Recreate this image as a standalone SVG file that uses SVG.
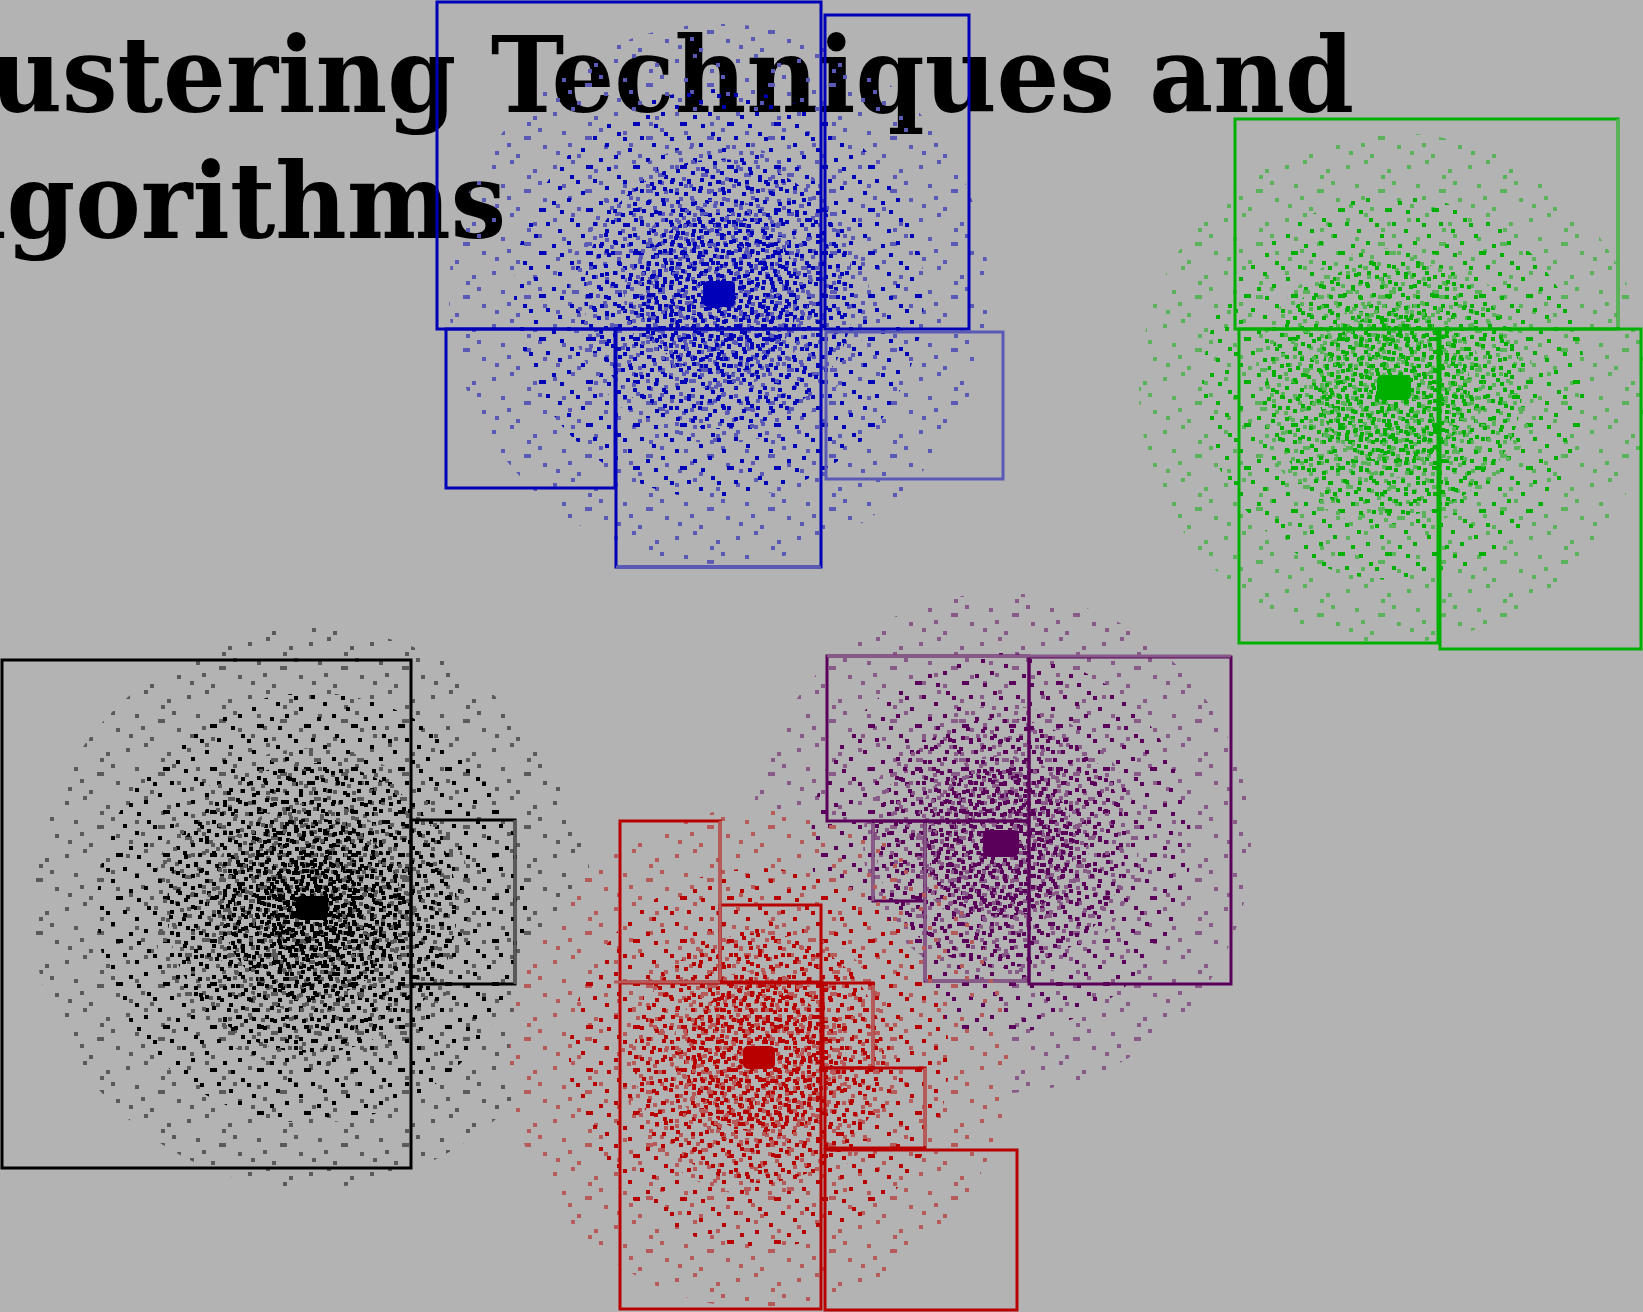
<svg xmlns="http://www.w3.org/2000/svg" width="1643" height="1312" viewBox="0 0 1643 1312">
<style>
.t{font-family:"DejaVu Serif Condensed","DejaVu Serif","Liberation Serif",serif;font-weight:bold;font-stretch:condensed;font-size:105px;fill:#000}
.box{fill:none;stroke-width:3}
.dot{fill:#fff;shape-rendering:crispEdges}
.bD{fill:#0000b8}.bL{fill:#5a5ab6}.sbD{stroke:#0000b8}.sbL{stroke:#5a5ab6}
.gD{fill:#00b000}.gL{fill:#5ab25a}.sgD{stroke:#00b000}.sgL{stroke:#5ab25a}
.kD{fill:#000}.kL{fill:#5a5a5a}.skD{stroke:#000}.skL{stroke:#5a5a5a}
.rD{fill:#b80000}.rL{fill:#b65a5a}.srD{stroke:#b80000}.srL{stroke:#b65a5a}
.pD{fill:#5a005a}.pL{fill:#875a87}.spD{stroke:#5a005a}.spL{stroke:#875a87}
</style>
<defs>
<pattern id="pA" width="61" height="53" patternUnits="userSpaceOnUse"><path class="dot" d="M4 6h3.5v3.5h-3.5zM22 1h3.5v3.5h-3.5zM45 10h3.5v3.5h-3.5zM13 25h3.5v3.5h-3.5zM36 30h7v3.5h-7zM55 39h3.5v3.5h-3.5zM7 45h3.5v3.5h-3.5zM28 48h3.5v3.5h-3.5zM50 22h3.5v3.5h-3.5zM19 37h3.5v3.5h-3.5zM39 16h3.5v3.5h-3.5z"/></pattern>
<pattern id="pB" width="43" height="39" patternUnits="userSpaceOnUse"><path class="dot" d="M3 4h3.5v3.5h-3.5zM25 9h3.5v3.5h-3.5zM37 21h3.5v3.5h-3.5zM13 17h7v3.5h-7zM30 32h3.5v3.5h-3.5zM1 28h3.5v3.5h-3.5zM19 34h3.5v3.5h-3.5zM8 11h3.5v3.5h-3.5zM34 2h3.5v3.5h-3.5z"/></pattern>
<pattern id="pC" width="29" height="31" patternUnits="userSpaceOnUse"><path class="dot" d="M2 3h3.5v3.5h-3.5zM17 6h3.5v3.5h-3.5zM24 16h3.5v3.5h-3.5zM9 14h3.5v3.5h-3.5zM20 25h3.5v3.5h-3.5zM4 23h3.5v3.5h-3.5zM12 27h3.5v3.5h-3.5zM25 1h3.5v3.5h-3.5z"/></pattern>
<pattern id="pD" width="19" height="17" patternUnits="userSpaceOnUse"><path class="dot" d="M1 2h3.5v3.5h-3.5zM11 4h3.5v3.5h-3.5zM6 10h3.5v3.5h-3.5zM15 12h3.5v3.5h-3.5zM9 13h3.5v3.5h-3.5z"/></pattern>
<pattern id="pE" width="47" height="43" patternUnits="userSpaceOnUse"><path class="dot" d="M6 3h3.5v3.5h-3.5zM29 7h3.5v3.5h-3.5zM41 14h3.5v3.5h-3.5zM17 19h3.5v3.5h-3.5zM3 26h3.5v3.5h-3.5zM35 29h3.5v3.5h-3.5zM22 36h7v3.5h-7zM12 8h3.5v3.5h-3.5zM43 38h3.5v3.5h-3.5z"/></pattern>
<pattern id="pF" width="31" height="23" patternUnits="userSpaceOnUse"><path class="dot" d="M3 2h3.5v3.5h-3.5zM18 5h3.5v3.5h-3.5zM26 13h3.5v3.5h-3.5zM10 11h3.5v3.5h-3.5zM21 19h3.5v3.5h-3.5zM1 17h3.5v3.5h-3.5z"/></pattern>
<pattern id="pG" width="23" height="19" patternUnits="userSpaceOnUse"><path class="dot" d="M2 1h3.5v3.5h-3.5zM14 3h3.5v3.5h-3.5zM7 8h3.5v3.5h-3.5zM19 11h3.5v3.5h-3.5zM11 15h3.5v3.5h-3.5zM3 14h3.5v3.5h-3.5z"/></pattern>
<mask id="mA" maskUnits="userSpaceOnUse" x="0" y="0" width="1643" height="1312"><rect width="1643" height="1312" fill="url(#pA)"/></mask>
<mask id="mB" maskUnits="userSpaceOnUse" x="0" y="0" width="1643" height="1312"><rect width="1643" height="1312" fill="url(#pB)"/></mask>
<mask id="mC" maskUnits="userSpaceOnUse" x="0" y="0" width="1643" height="1312"><rect width="1643" height="1312" fill="url(#pC)"/></mask>
<mask id="mD" maskUnits="userSpaceOnUse" x="0" y="0" width="1643" height="1312"><rect width="1643" height="1312" fill="url(#pD)"/></mask>
<mask id="mE" maskUnits="userSpaceOnUse" x="0" y="0" width="1643" height="1312"><rect width="1643" height="1312" fill="url(#pE)"/></mask>
<mask id="mF" maskUnits="userSpaceOnUse" x="0" y="0" width="1643" height="1312"><rect width="1643" height="1312" fill="url(#pF)"/></mask>
<mask id="mG" maskUnits="userSpaceOnUse" x="0" y="0" width="1643" height="1312"><rect width="1643" height="1312" fill="url(#pG)"/></mask>
</defs>
<rect width="1643" height="1312" fill="#b3b3b3"/>
<g id="title">
<text class="t" x="-126" y="112" textLength="1480" lengthAdjust="spacingAndGlyphs">Clustering Techniques and</text>
<text class="t" x="-107" y="238" textLength="613" lengthAdjust="spacingAndGlyphs">Algorithms</text>
</g>
<g id="cluster-blue">
<circle cx="719" cy="294" r="270" class="bL" mask="url(#mA)"/>
<circle cx="719" cy="294" r="205" class="bD" mask="url(#mE)"/>
<circle cx="719" cy="294" r="150" class="bL" mask="url(#mB)"/>
<circle cx="719" cy="294" r="135" class="bD" mask="url(#mC)"/>
<circle cx="719" cy="294" r="95" class="bL" mask="url(#mF)"/>
<circle cx="719" cy="294" r="80" class="bD" mask="url(#mG)"/>
<rect x="703" y="281" width="32" height="26" rx="5" class="bD"/>
<g class="box sbD">
<rect x="437" y="2" width="384" height="327"/>
<rect x="825" y="15" width="144" height="314"/>
<rect x="446" y="329" width="169" height="159"/>
<rect x="616" y="329" width="205" height="238"/>
</g>
<g class="box sbL">
<rect x="826" y="332" width="177" height="147"/>
<line x1="616" y1="567" x2="821" y2="567"/>
</g>
</g>
<g id="cluster-green">
<circle cx="1394" cy="388" r="255" class="gL" mask="url(#mA)"/>
<circle cx="1394" cy="388" r="192" class="gD" mask="url(#mE)"/>
<circle cx="1394" cy="388" r="140" class="gL" mask="url(#mB)"/>
<circle cx="1394" cy="388" r="128" class="gD" mask="url(#mC)"/>
<circle cx="1394" cy="388" r="90" class="gL" mask="url(#mF)"/>
<circle cx="1394" cy="388" r="76" class="gD" mask="url(#mG)"/>
<rect x="1377" y="375" width="34" height="25" rx="5" class="gD"/>
<g class="box sgD">
<rect x="1235" y="119" width="383" height="210"/>
<rect x="1239" y="329" width="199" height="314"/>
<rect x="1440" y="329" width="201" height="320"/>
</g>
<line class="box sgL" x1="1618" y1="119" x2="1618" y2="327"/>
</g>
<g id="cluster-black">
<circle cx="312" cy="908" r="280" class="kL" mask="url(#mA)"/>
<circle cx="312" cy="908" r="215" class="kD" mask="url(#mE)"/>
<circle cx="312" cy="908" r="160" class="kL" mask="url(#mB)"/>
<circle cx="312" cy="908" r="145" class="kD" mask="url(#mC)"/>
<circle cx="312" cy="908" r="105" class="kL" mask="url(#mF)"/>
<circle cx="312" cy="908" r="90" class="kD" mask="url(#mG)"/>
<circle cx="312" cy="908" r="50" class="kD" mask="url(#mD)"/>
<rect x="296" y="896" width="32" height="24" rx="5" class="kD"/>
<g class="box skD">
<rect x="2" y="660" width="409" height="508"/>
<rect x="411" y="820" width="104" height="164"/>
</g>
<line class="box skL" x1="515" y1="820" x2="515" y2="984"/>
</g>
<g id="cluster-purple">
<circle cx="1001" cy="843" r="250" class="pL" mask="url(#mA)"/>
<circle cx="1001" cy="843" r="190" class="pD" mask="url(#mE)"/>
<circle cx="1001" cy="843" r="138" class="pL" mask="url(#mB)"/>
<circle cx="1001" cy="843" r="125" class="pD" mask="url(#mC)"/>
<circle cx="1001" cy="843" r="88" class="pL" mask="url(#mF)"/>
<circle cx="1001" cy="843" r="74" class="pD" mask="url(#mG)"/>
<rect x="983" y="830" width="36" height="27" rx="6" class="pD"/>
<g class="box spD">
<rect x="827" y="656" width="202" height="165"/>
<rect x="1029" y="657" width="202" height="327"/>
<rect x="873" y="821" width="52" height="80"/>
<rect x="925" y="821" width="104" height="160"/>
</g>
<g class="box spL">
<line x1="827" y1="656" x2="1231" y2="656"/>
<line x1="873" y1="823" x2="873" y2="901"/>
<line x1="925" y1="823" x2="925" y2="981"/>
<line x1="925" y1="981" x2="1027" y2="981"/>
</g>
</g>
<g id="cluster-red">
<circle cx="759" cy="1058" r="250" class="rL" mask="url(#mA)"/>
<circle cx="759" cy="1058" r="190" class="rD" mask="url(#mE)"/>
<circle cx="759" cy="1058" r="138" class="rL" mask="url(#mB)"/>
<circle cx="759" cy="1058" r="125" class="rD" mask="url(#mC)"/>
<circle cx="759" cy="1058" r="88" class="rL" mask="url(#mF)"/>
<circle cx="759" cy="1058" r="74" class="rD" mask="url(#mG)"/>
<rect x="743" y="1046" width="32" height="23" rx="5" class="rD"/>
<g class="box srD">
<rect x="620" y="821" width="100" height="161"/>
<rect x="720" y="905" width="101" height="77"/>
<rect x="620" y="983" width="201" height="326"/>
<rect x="823" y="983" width="50" height="85"/>
<rect x="825" y="1068" width="100" height="80"/>
<rect x="825" y="1150" width="192" height="160"/>
</g>
<g class="box srL">
<line x1="720" y1="821" x2="720" y2="980"/>
<line x1="614" y1="982" x2="720" y2="982"/>
<line x1="873" y1="985" x2="873" y2="1066"/>
<line x1="925" y1="1068" x2="925" y2="1146"/>
</g>
</g>
</svg>
